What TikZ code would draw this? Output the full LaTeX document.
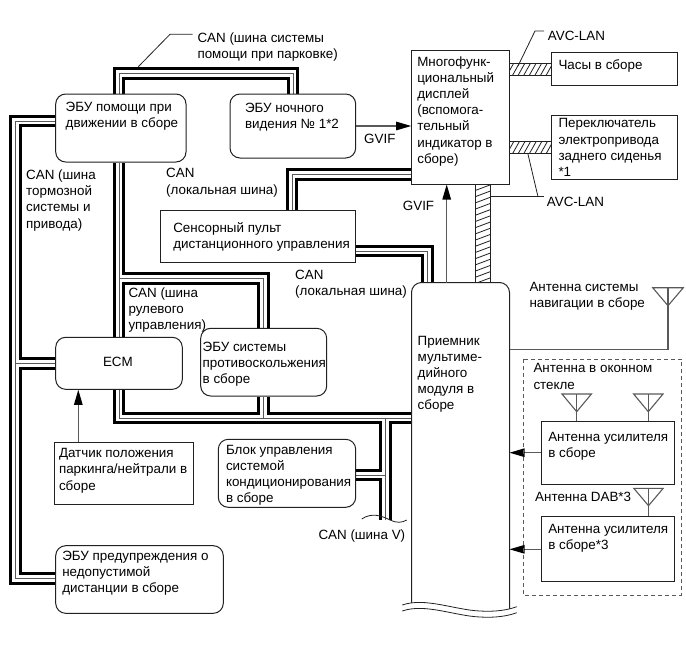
\documentclass[tikz,border=0pt]{standalone}
\usepackage{fontspec}
\setmainfont{Liberation Sans}
\usetikzlibrary{arrows.meta,backgrounds,calc}
\definecolor{ink}{gray}{0.13}
\definecolor{soft}{gray}{0.35}
\newcommand\fsz{\fontsize{13.4}{16.2}\selectfont}
\tikzset{
  boxsq/.style={draw=ink,line width=1pt,fill=white},
  boxrd/.style={boxsq,rounded corners=10pt},
  plainb/.style={},
  wire/.style={draw=soft,line width=1.1pt},
  arrowline/.style={wire,-{Triangle[length=15pt,width=8.5pt,color=black]}},
  leader/.style={draw=ink,line width=.8pt},
  label/.style={anchor=north west,inner sep=0pt,font=\fsz},
}
% style,name,x1,y1,x2,y2,text x,first line centre y,lines
\newcommand\bx[9]{%
  \pgfmathsetmacro\bw{#5-#3}\pgfmathsetmacro\bh{#6-#4}%
  \pgfmathsetmacro\bcx{(#3+#5)/2}\pgfmathsetmacro\bcy{(#4+#6)/2}%
  \pgfmathsetmacro\bl{#7-#3}\pgfmathsetmacro\bd{#8-7-#4}%
  \node[#1,inner sep=0pt,font=\fsz,minimum width=\bw pt,minimum height=\bh pt] (#2) at (\bcx,\bcy)
   {\parbox[c][\bh pt][t]{\bw pt}{\vspace*{\bd pt}\noindent\hspace*{\bl pt}\makebox[0pt][l]{\begin{tabular}[t]{@{}l@{}}#9\end{tabular}}}};%
}
\newcommand\lbl[4]{%
  \pgfmathsetmacro\bd{#3-7}%
  \node[label] (#1) at (#2,\bd) {\begin{tabular}[t]{@{}l@{}}#4\end{tabular}};%
}
\newcommand\ant[5]{%
  \coordinate (#1) at (#2,#4);
  \coordinate (#1a) at (#2,#5);
  \draw[wire] ($(#1)+(-#3,0)$) -- ($(#1)+(#3,0)$) -- (#1a) -- cycle;
}
\begin{document}
\begin{tikzpicture}[x=1pt,y=-1pt]
\useasboundingbox (0,0) rectangle (686,662);

% boxes
\bx{boxrd}{pa}{55.7}{94}{186}{162}{65.7}{107.3}{ЭБУ помощи при\\движении в сборе}
\bx{boxrd}{nv}{230}{94}{355.7}{158}{245}{108.3}{ЭБУ ночного\\видения № 1*2}
\bx{boxsq}{sp}{160.7}{210}{355.7}{262}{173.3}{228.3}{Сенсорный пульт\\дистанционного управления}
\bx{boxsq}{dis}{411.7}{50.7}{509.3}{184}{417.3}{61.7}{Многофунк-\\циональный\\дисплей\\(вспомога-\\тельный\\индикатор в\\сборе)}
\bx{boxsq}{clk}{551.3}{52}{677.3}{85.7}{558.5}{65.5}{Часы в сборе}
\bx{boxsq}{sw}{551.3}{115}{677.3}{179}{558.5}{123.5}{Переключатель\\электропривода\\заднего сиденья\\{}*1}
\bx{boxrd}{ecm}{55.7}{337.3}{182.3}{389.3}{103}{362.3}{ECM}
\bx{boxrd}{skid}{200.7}{328.3}{326.7}{396}{202.7}{346.7}{ЭБУ системы\\противоскольжения\\в сборе}
\bx{boxsq}{park}{54.3}{442.3}{193.7}{504.3}{59}{453.3}{Датчик положения\\паркинга/нейтрали в\\сборе}
\bx{boxrd}{ac}{218.3}{439.3}{355.7}{507.3}{226}{450}{Блок управления\\системой\\кондиционирования\\в сборе}
\bx{boxrd}{warn}{55.7}{545.7}{223.3}{613.3}{62.3}{555.7}{ЭБУ предупреждения о\\недопустимой\\дистанции в сборе}
\bx{plainb}{rcv}{411.7}{282.7}{509.3}{606}{417.7}{340.7}{Приемник\\мультиме-\\дийного\\модуля в\\сборе}
\bx{boxsq}{amp1}{541}{421.7}{674.3}{484.3}{548.3}{437.3}{Антенна усилителя\\в сборе}
\bx{boxsq}{amp2}{541}{516.7}{674.3}{581.7}{548.3}{529}{Антенна усилителя\\в сборе*3}

% receiver outline with broken bottom
\draw[ink,line width=1pt,rounded corners=10pt] (rcv.south west) -- (rcv.north west) -- (rcv.north east) -- (rcv.east |- 0,609);
\fill[white] (402.3,605) .. controls (425,597) and (455,610) .. (480,611) .. controls (495,612) and (508,610) .. (516.7,606.7)
  -- (516.7,612.7) .. controls (508,616) and (495,618) .. (480,617) .. controls (455,616) and (425,603) .. (402.3,611) -- cycle;
\draw[ink,line width=.8pt] (402.3,605) .. controls (425,597) and (455,610) .. (480,611) .. controls (495,612) and (508,610) .. (516.7,606.7);
\draw[ink,line width=.8pt] (402.3,611) .. controls (425,603) and (455,616) .. (480,617) .. controls (495,618) and (508,616) .. (516.7,612.7);

% bus junctions
\coordinate (pk1) at (119,73.5);
\coordinate (pk2) at (293,73.5);
\coordinate (j2) at (263.5,278.5);
\coordinate (j3) at (119,418);
\coordinate (b1) at (15.5,121);
\coordinate (b2) at (15.5,578.5);
\coordinate (l1) at (292,174.5);
\coordinate (l2) at (427.5,251);
\coordinate (v1) at (385.5,418);
\coordinate (v2) at (385.5,520);
\coordinate (v3) at (385.5,475);
\newcommand\buspaths{
  (pk1 |- pa.north) -- (pk1) -- (pk2) -- (pk2 |- nv.north)
  (pk1 |- pa.south) -- (pk1 |- ecm.north)
  (pk1 |- ecm.south) -- (j3) -- (rcv.west |- j3)
  (pk1 |- j2) -- (j2) -- (j2 |- skid.north)
  (j2 |- skid.south) -- (j2 |- j3)
  (pa.west |- b1) -- (b1) -- (b2) -- (warn.west |- b2)
  (b1 |- ecm.west) -- (ecm.west)
  (l1 |- sp.north) -- (l1) -- (dis.west |- l1)
  (sp.east |- l2) -- (l2) -- (l2 |- rcv.north)
  (v1) -- (v2)
  (ac.east |- v3) -- (v3)
}
\begin{scope}[on background layer]
  \draw[black,line width=12.6pt] \buspaths;
  \draw[white,line width=6.6pt] \buspaths;
  \draw[soft,line width=1pt] \buspaths;
\end{scope}

% V-bus break
\coordinate (w1) at (361.7,519);
\coordinate (w2) at (406.7,520);
\draw[ink,line width=.8pt] (w1) .. controls (372,512) and (382,516) .. (390,520) .. controls (396,523) and (402,523) .. (w2);

% hatched AVC-LAN links
\newcommand\hatchh[2]{%
  \coordinate (ha) at (dis.east |- 0,#1);
  \coordinate (hb) at (clk.west |- 0,#2);
  \begin{scope}
    \clip (ha) rectangle (hb);
    \foreach \i in {0,...,8} \draw[ink,line width=.8pt] ($(ha)+(5.6*\i-4,14)$) -- ++(9,-16);
  \end{scope}
  \draw[ink,line width=1pt] (ha) -- (ha -| hb) (ha |- hb) -- (hb);
}
\hatchh{63.3}{75.3}
\hatchh{141.7}{153.3}
\coordinate (va) at (475.7,0 |- dis.south);
\coordinate (vb) at (490,0 |- rcv.north);
\begin{scope}
  \clip (va) rectangle (vb);
  \foreach \i in {0,...,16} \draw[ink,line width=.8pt] ($(va)+(-1,6.2*\i)$) -- ++(16,-6);
\end{scope}
\draw[ink,line width=1pt] (va) -- (va |- vb) (va -| vb) -- (vb);

% arrows
\draw[arrowline] (nv.east |- 0,126) -- (dis.west |- 0,126);
\coordinate (gv) at (446.7,0);
\draw[arrowline] (gv |- rcv.north) -- (gv |- dis.south);
\coordinate (pa1) at (78.3,0);
\draw[arrowline] (pa1 |- park.north) -- (pa1 |- ecm.south);
\draw[arrowline] (amp1.west |- 0,452.7) -- (rcv.east |- 0,452.7);
\draw[arrowline] (amp2.west |- 0,549.3) -- (rcv.east |- 0,549.3);

% antennas
\ant{an}{668}{15.3}{287.7}{305.7}
\coordinate (anc) at (668,349.3);
\draw[wire] (an) -- (anc) -- (rcv.east |- anc);
\ant{w1a}{576.7}{14.7}{394}{411.7}
\draw[wire] (w1a) -- (w1a |- amp1.north);
\ant{w2a}{648.3}{14.7}{394}{411.7}
\draw[wire] (w2a) -- (w2a |- amp1.north);
\ant{dab}{648.5}{14.7}{488.3}{505.7}
\draw[wire] (dab) -- (dab |- amp2.north);

% dashed group
\draw[soft,line width=1pt,dash pattern=on 4pt off 3pt] (523,359.3) rectangle (681.7,595);

% labels
\lbl{t1}{197.3}{37.7}{CAN (шина системы\\помощи при парковке)}
\lbl{t2}{26}{175}{CAN (шина\\тормозной\\системы и\\привода)}
\lbl{t3}{166}{173.3}{CAN\\(локальная шина)}
\lbl{t4}{295}{275}{CAN\\(локальная шина)}
\lbl{t5}{128.3}{292.7}{CAN (шина\\рулевого\\управления)}
\lbl{t6}{318.3}{535}{CAN (шина V)}
\lbl{t7}{364}{139}{GVIF}
\lbl{t8}{402.7}{205.7}{GVIF}
\lbl{t9}{547.7}{35.7}{AVC-LAN}
\lbl{t10}{546.7}{201.7}{AVC-LAN}
\lbl{t11}{529.3}{286.7}{Антенна системы\\навигации в сборе}
\lbl{t12}{533.3}{368.3}{Антенна в оконном\\стекле}
\lbl{t13}{535}{497.3}{Антенна DAB*3}

% leaders
\coordinate (c1) at (170,34.3);
\draw[leader] (t1.west |- c1) ++(-4.6,0) -- (c1) -- (138.3,66.7);
\coordinate (c2) at (535,31);
\draw[leader] (544,31) -- (c2) -- (518,66);
\coordinate (c3) at (538,196.7);
\draw[leader] (vb |- c3) -- (544,196.7);
\draw[leader] (527.7,153) -- (c3);
\end{tikzpicture}
\end{document}
